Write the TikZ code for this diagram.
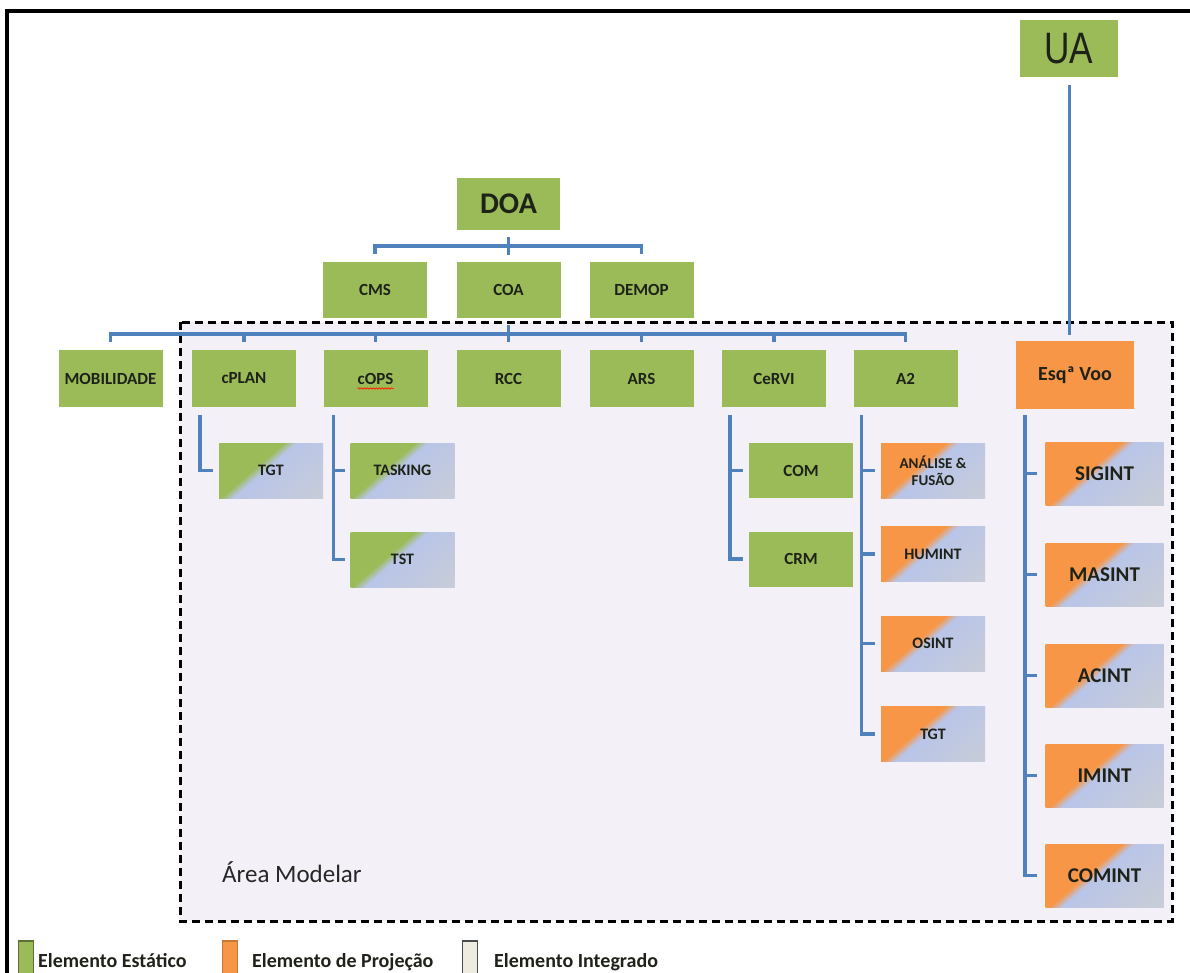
\documentclass[tikz,border=0pt]{standalone}
\usepackage{fontspec}
\setmainfont{Carlito}
\newfontfamily\arialfont{Liberation Sans}
\usetikzlibrary{decorations.pathmorphing}

\definecolor{boxgreen}{HTML}{9BBB59}
\definecolor{boxorange}{HTML}{F79646}
\definecolor{fadeblue}{HTML}{B9C5E8}
\definecolor{fadegray}{HTML}{C7CCD9}
\definecolor{linkblue}{HTML}{4F81BD}
\definecolor{zonefill}{HTML}{F3F1F7}
\definecolor{labelink}{HTML}{1E2218}
\definecolor{integrado}{HTML}{EEECE1}

% colour on the upper-left part, pale blue-grey on the lower-right part
% (the painted square spans 25bp..75bp of the shading)
\pgfdeclarehorizontalshading{greenfade}{100bp}{color(0bp)=(boxgreen); color(45.5bp)=(boxgreen); color(48.5bp)=(fadeblue); color(68bp)=(fadegray); color(100bp)=(fadegray)}
\pgfdeclarehorizontalshading{orangefade}{100bp}{color(0bp)=(boxorange); color(45.5bp)=(boxorange); color(48.5bp)=(fadeblue); color(68bp)=(fadegray); color(100bp)=(fadegray)}

\tikzset{
  unit/.style={inner sep=0pt, text=labelink, align=center,
    font=\bfseries\fontsize{17}{20}\selectfont},
  staticbox/.style={unit, fill=boxgreen, minimum width=104pt, minimum height=57pt},
  projbox/.style={unit, fill=boxorange, minimum width=118pt, minimum height=68pt,
    font=\bfseries\fontsize{20}{24}\selectfont},
  % diagonal two-colour background, clipped to the node
  mixbg/.style={path picture={
    \shade[shading=#1,
      transform canvas={rotate around={-49:(path picture bounding box.center)}}]
      ([shift={(-70pt,-70pt)}]path picture bounding box.center)
      rectangle ([shift={(70pt,70pt)}]path picture bounding box.center);}},
  greenmix/.style={unit, mixbg=greenfade,
    minimum width=104pt, minimum height=55pt, font=\bfseries\fontsize{16}{18}\selectfont},
  orangemix/.style={unit, mixbg=orangefade,
    minimum width=104pt, minimum height=55pt, font=\bfseries\fontsize{16}{18}\selectfont},
  sidemix/.style={orangemix, minimum width=118pt, minimum height=63pt,
    font=\bfseries\fontsize{21}{24}\selectfont},
  link/.style={draw=linkblue, line width=3.5pt},
  legendsq/.style={inner sep=0pt, minimum width=15pt, minimum height=34pt, line width=1.2pt},
  legendtxt/.style={inner sep=0pt, anchor=base west, text=labelink,
    font=\bfseries\fontsize{20}{24}\selectfont}
}

\begin{document}
\begin{tikzpicture}[x=1pt, y=-1pt]
\useasboundingbox (0,0) rectangle (1190,973);
\clip (0,0) rectangle (1190,973);
\fill[white] (0,0) rectangle (1190,973);

% outer frame
\draw[line width=4pt] (7,1000) -- (7,11) -- (1200,11);

% modular area
\fill[zonefill] (180,322) rectangle (1172,921);
\draw[line width=3pt, dash pattern=on 8pt off 5pt] (180,322) rectangle (1172,921);
\node[anchor=base west, inner sep=0pt, text=black!85, font=\fontsize{25}{30}\selectfont]
  (area) at (222,882) {Área Modelar};

% top levels
\node[staticbox, minimum width=98pt, font=\arialfont\fontsize{44}{50}\selectfont]
  (UA) at (1069,48.5) {\scalebox{0.8}[1]{UA}};
\node[staticbox, minimum width=103pt, minimum height=52pt, font=\bfseries\fontsize{30}{34}\selectfont]
  (DOA) at (508.5,204) {DOA};
\node[staticbox, minimum height=56pt] (CMS) at (375,290) {CMS};
\node[staticbox, minimum height=56pt] (COA) at (508.5,290) {COA};
\node[staticbox, minimum height=56pt] (DEMOP) at (641.5,290) {DEMOP};

% second row
\node[staticbox] (MOB) at (110.5,378.5) {MOBILIDADE};
\node[staticbox] (cPLAN) at (244,378.5) {cPLAN};
\node[staticbox] (cOPS) at (375.5,378.5) {cOPS};
\node[staticbox] (RCC) at (508.5,378.5) {RCC};
\node[staticbox] (ARS) at (641.5,378.5) {ARS};
\node[staticbox] (CeRVI) at (774,378.5) {CeRVI};
\node[staticbox] (A2) at (905.5,378.5) {A2};
\node[projbox] (EV) at (1075,375) {Esqª Voo};

% spell-check underline under cOPS
\draw[red!75!orange, line width=0.8pt, decorate,
      decoration={snake, amplitude=0.7pt, segment length=3pt}]
  ([xshift=-18pt,yshift=-10pt]cOPS.center) -- ([xshift=18pt,yshift=-10pt]cOPS.center);

% sub-units
\node[greenmix] (TGTa) at (271,470.5) {TGT};
\node[greenmix] (TASK) at (402.5,470.5) {TASKING};
\node[greenmix] (TST) at (402.5,559.5) {TST};
\node[staticbox, minimum height=55pt] (COM) at (801,470.5) {COM};
\node[staticbox, minimum height=55pt] (CRM) at (801,559) {CRM};
\node[orangemix, font=\bfseries\fontsize{15}{17}\selectfont] (AF) at (933,470.5) {ANÁLISE \&\\FUSÃO};
\node[orangemix] (HUM) at (933,554) {HUMINT};
\node[orangemix] (OSI) at (933,643.5) {OSINT};
\node[orangemix] (TGTb) at (933,734) {TGT};
\node[sidemix] (SIG) at (1104.5,473.5) {SIGINT};
\node[sidemix] (MAS) at (1104.5,574.5) {MASINT};
\node[sidemix] (ACI) at (1104.5,675.5) {ACINT};
\node[sidemix] (IMI) at (1104.5,775.5) {IMINT};
\node[sidemix] (COMI) at (1104.5,875.5) {COMINT};

% DOA branch
\draw[link] ([yshift=-7pt]DOA.south) -- ([yshift=7pt]COA.north);
\draw[link] ([yshift=8pt]CMS.north) -- ([yshift=16pt]CMS.north)
  -- ([yshift=16pt]DEMOP.north) -- ([yshift=8pt]DEMOP.north);

% COA branch
\draw[link] ([yshift=-7pt]COA.south) -- ([yshift=8pt]RCC.north);
\draw[link] ([yshift=8pt]MOB.north) -- ([yshift=16pt]MOB.north)
  -- ([yshift=16pt]A2.north) -- ([yshift=8pt]A2.north);
\foreach \n in {cPLAN, cOPS, ARS, CeRVI}
  \draw[link] ([yshift=16pt]\n.north) -- ([yshift=8pt]\n.north);

% UA to Esquadra de Voo
\draw[link, line width=3pt] ([yshift=-8pt]UA.south) -- ([yshift=6pt]UA.south |- EV.north);

% child stems
\coordinate (vPLAN) at ([xshift=8pt,yshift=-8pt]cPLAN.south west);
\draw[link] (vPLAN) |- ([xshift=-6pt]TGTa.west);

\coordinate (vOPS) at ([xshift=10pt,yshift=-8pt]cOPS.south west);
\draw[link] (vOPS) |- ([xshift=-5pt]TST.west);
\draw[link] (vOPS |- TASK.west) -- ([xshift=-5pt]TASK.west);

\coordinate (vRVI) at ([xshift=8pt,yshift=-8pt]CeRVI.south west);
\draw[link] (vRVI) |- ([xshift=-6pt]CRM.west);
\draw[link] (vRVI |- COM.west) -- ([xshift=-6pt]COM.west);

\coordinate (vA2) at ([xshift=8pt,yshift=-8pt]A2.south west);
\draw[link] (vA2) |- ([xshift=-6pt]TGTb.west);
\foreach \n in {AF, HUM, OSI}
  \draw[link] (vA2 |- \n.west) -- ([xshift=-6pt]\n.west);

\coordinate (vEV) at ([xshift=9pt,yshift=-6pt]EV.south west);
\draw[link] (vEV) |- ([xshift=-8pt]COMI.west);
\foreach \n in {SIG, MAS, ACI, IMI}
  \draw[link] (vEV |- \n.west) -- ([xshift=-8pt]\n.west);

% legend
\node[legendsq, fill=boxgreen, draw=boxgreen!60!black] (kGreen) at (26,958) {};
\node[legendtxt] (tGreen) at (38,967) {Elemento Estático};
\node[legendsq, fill=boxorange, draw=boxorange!80!black] (kOrange) at (230,958) {};
\node[legendtxt] (tOrange) at (252,967) {Elemento de Projeção};
\node[legendsq, fill=integrado, draw=black!70] (kInt) at (470,958) {};
\node[legendtxt] (tInt) at (494,967) {Elemento Integrado};
\end{tikzpicture}
\end{document}
